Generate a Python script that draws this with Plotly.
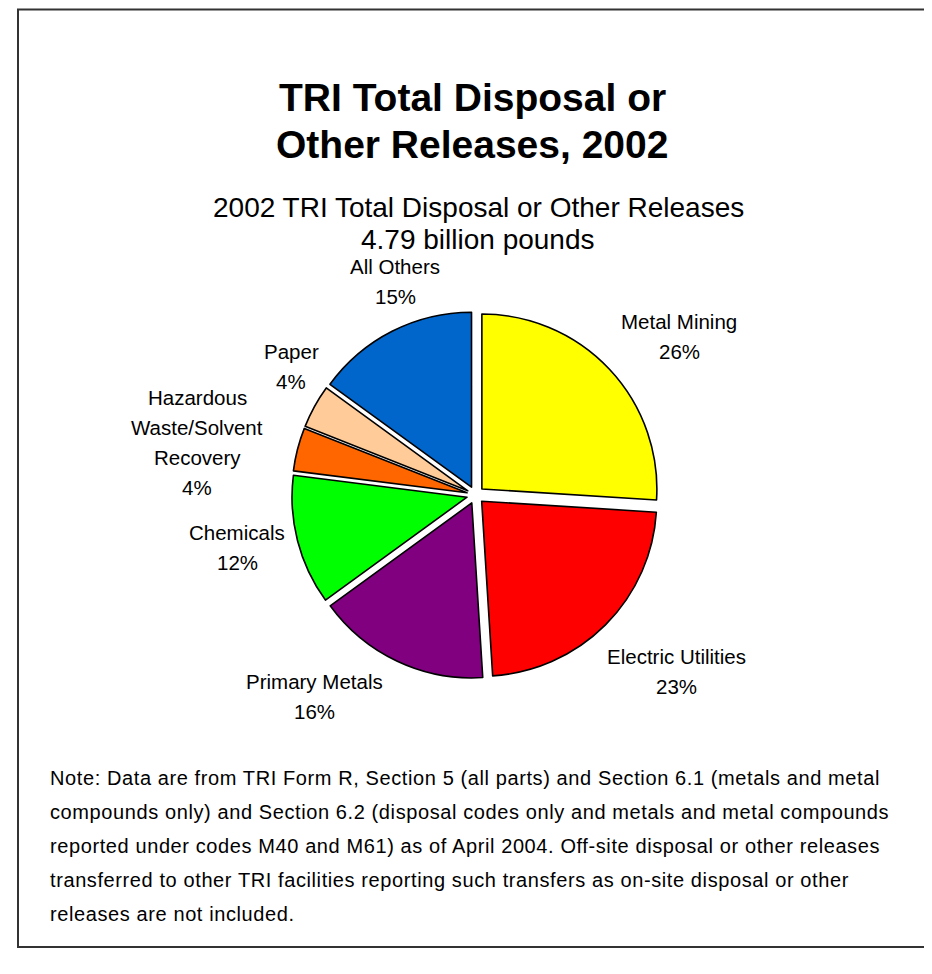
import plotly.graph_objects as go

# ---------------- data ----------------
categories = ["Metal Mining", "Electric Utilities", "Primary Metals", "Chemicals",
              "Hazardous Waste/Solvent Recovery", "Paper", "All Others"]
label_lines = [["Metal Mining"], ["Electric Utilities"], ["Primary Metals"], ["Chemicals"],
               ["Hazardous", "Waste/Solvent", "Recovery"], ["Paper"], ["All Others"]]
values = [26, 23, 16, 12, 4, 4, 15]
colors = ["#FFFF00", "#FF0000", "#800080", "#00FF00", "#FF6600", "#FFCC99", "#0066CC"]

title_lines = ["TRI Total Disposal or", "Other Releases, 2002"]
subtitle_lines = ["2002 TRI Total Disposal or Other Releases", "4.79 billion pounds"]
note_lines = [
    "Note: Data are from TRI Form R, Section 5 (all parts) and Section 6.1 (metals and metal",
    "compounds only) and Section 6.2 (disposal codes only and metals and metal compounds",
    "reported under codes M40 and M61) as of April 2004. Off-site disposal or other releases",
    "transferred to other TRI facilities reporting such transfers as on-site disposal or other",
    "releases are not included.",
]

# ---------------- layout helpers (pixels -> paper) ----------------
W, H = 932, 974
DX, DY = -6, -6  # global content offset


def px(x):
    return (x + DX) / W


def py(y):
    return 1 - (y + DY) / H


FONT = "Liberation Sans, Arial, sans-serif"

# label anchor positions (center x, first-line baseline y) in pixels
label_pos = [(677, 327), (674, 662), (312, 687), (235, 538), (195, 403), (289, 357), (393, 272)]
LABEL_SIZE = 20.5
LABEL_STEP = 30

pie_cx, pie_cy, pie_half = 473.5, 493, 183.75
pull = 0.05

fig = go.Figure()
fig.add_trace(go.Pie(
    labels=categories,
    values=values,
    sort=False,
    direction="clockwise",
    rotation=0,
    pull=[pull] * len(values),
    marker=dict(colors=colors, line=dict(color="#000000", width=1.6)),
    textinfo="none",
    hoverinfo="label+percent",
    showlegend=False,
    domain=dict(x=[px(pie_cx - pie_half), px(pie_cx + pie_half)],
                y=[py(pie_cy + pie_half), py(pie_cy - pie_half)]),
))

annotations = []
total = sum(values)
for lines, v, (lx, ly) in zip(label_lines, values, label_pos):
    texts = lines + [f"{round(100 * v / total)}%"]
    for i, t in enumerate(texts):
        annotations.append(dict(
            text=t, x=px(lx), y=py(ly + i * LABEL_STEP - 0.35 * LABEL_SIZE),
            xref="paper", yref="paper", xanchor="center", yanchor="middle",
            showarrow=False, font=dict(family=FONT, size=LABEL_SIZE, color="#000000"),
        ))

for i, t in enumerate(title_lines):
    annotations.append(dict(
        text=f"<b>{t}</b>", x=px(470), y=py(96 + i * 47),
        xref="paper", yref="paper", xanchor="center", yanchor="middle",
        showarrow=False, font=dict(family=FONT, size=39, color="#000000"),
    ))
for i, t in enumerate(subtitle_lines):
    annotations.append(dict(
        text=t, x=px(476), y=py(206 + i * 32),
        xref="paper", yref="paper", xanchor="center", yanchor="middle",
        showarrow=False, font=dict(family=FONT, size=28, color="#000000"),
    ))
for i, t in enumerate(note_lines):
    annotations.append(dict(
        text=f'<span style="letter-spacing:0.6px">{t}</span>', x=px(46), y=py(776 + i * 34),
        xref="paper", yref="paper", xanchor="left", yanchor="middle",
        showarrow=False, font=dict(family=FONT, size=20, color="#000000"),
    ))

fig.update_layout(
    width=W, height=H,
    margin=dict(l=0, r=0, t=0, b=0),
    paper_bgcolor="#FFFFFF",
    plot_bgcolor="#FFFFFF",
    annotations=annotations,
    shapes=[dict(type="rect", xref="paper", yref="paper",
                 x0=10 / W, y0=1 - 939 / H, x1=931 / W, y1=1 - 1.5 / H,
                 line=dict(color="#333333", width=2), fillcolor="rgba(0,0,0,0)")],
)

fig.write_html("out.html")
